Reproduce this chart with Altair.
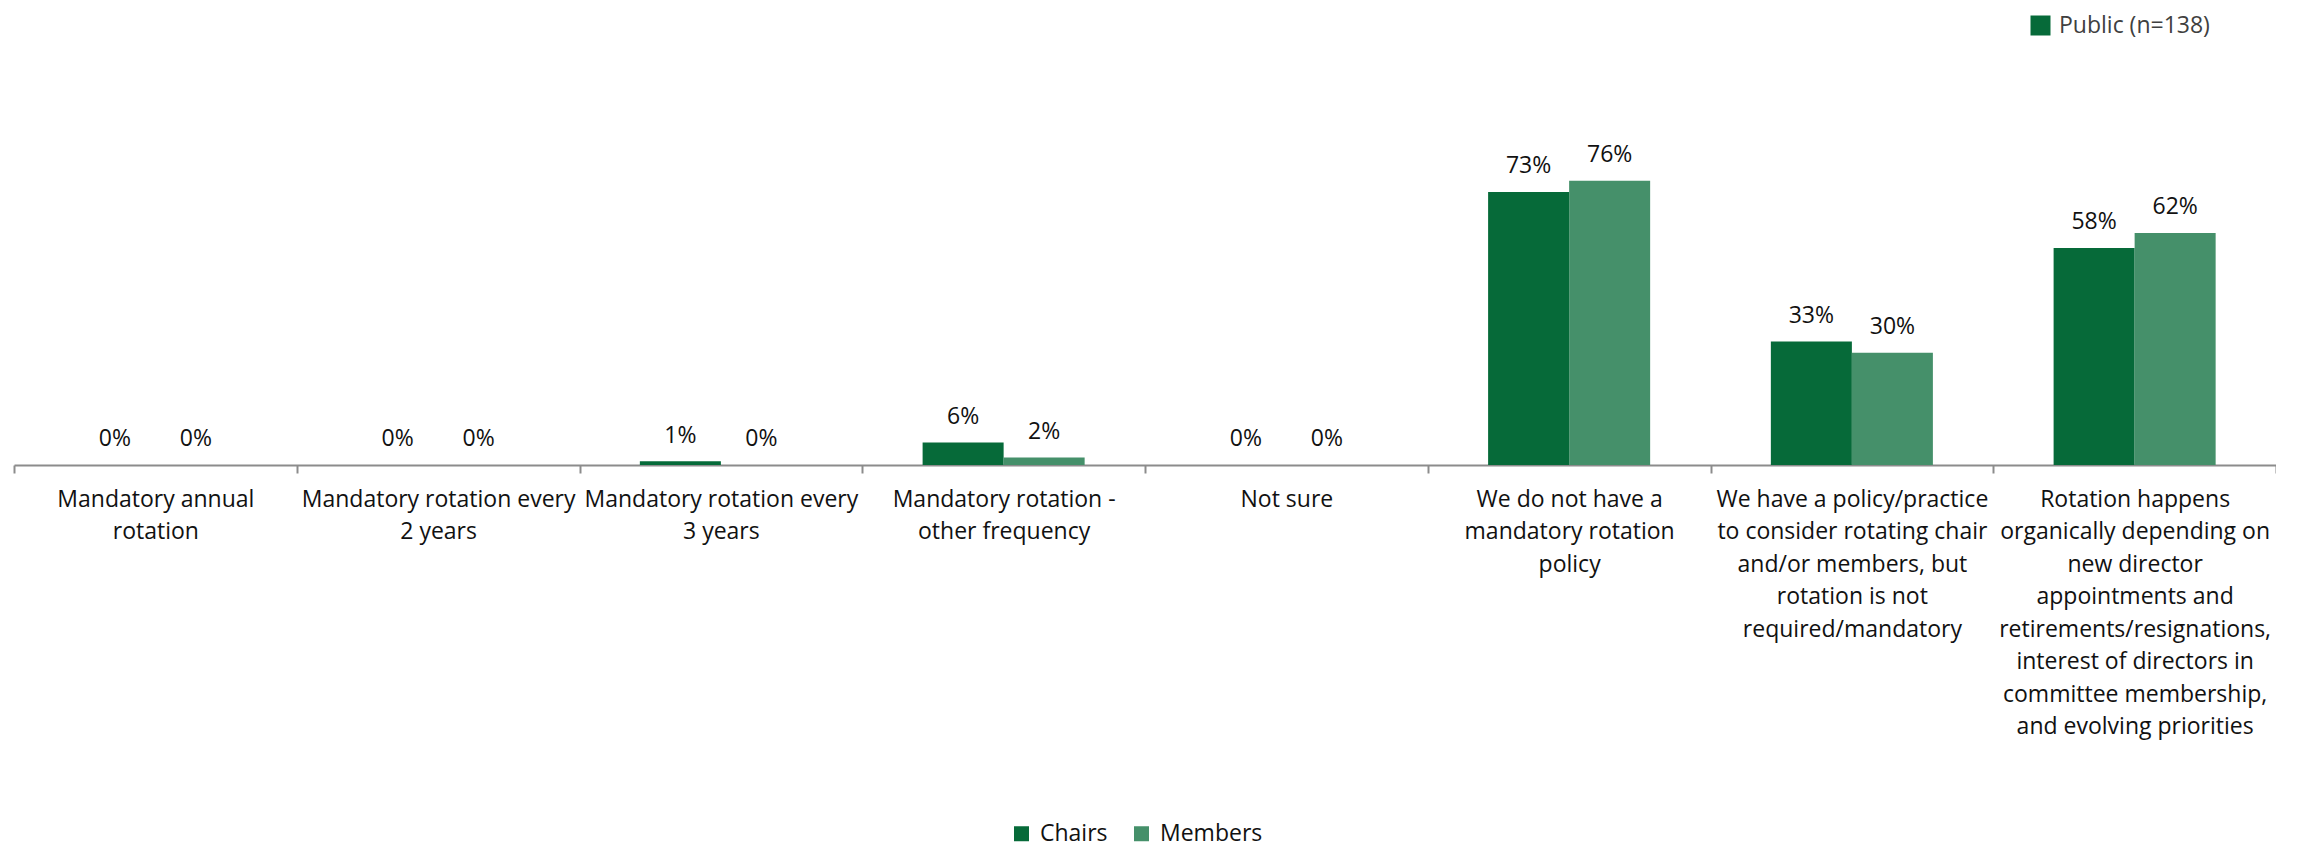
import altair as alt
import pandas as pd

# ---- data ----
categories = [
    "Mandatory annual rotation",
    "Mandatory rotation every 2 years",
    "Mandatory rotation every 3 years",
    "Mandatory rotation - other frequency",
    "Not sure",
    "We do not have a mandatory rotation policy",
    "We have a policy/practice to consider rotating chair and/or members, but rotation is not required/mandatory",
    "Rotation happens organically depending on new director appointments and retirements/resignations, interest of directors in committee membership, and evolving priorities",
]
label_lines = [
    ["Mandatory annual", "rotation"],
    ["Mandatory rotation every", "2 years"],
    ["Mandatory rotation every", "3 years"],
    ["Mandatory rotation -", "other frequency"],
    ["Not sure"],
    ["We do not have a", "mandatory rotation", "policy"],
    ["We have a policy/practice", "to consider rotating chair", "and/or members, but",
     "rotation is not", "required/mandatory"],
    ["Rotation happens", "organically depending on", "new director", "appointments and",
     "retirements/resignations,", "interest of directors in", "committee membership,",
     "and evolving priorities"],
]
chairs = [0, 0, 1, 6, 0, 73, 33, 58]
members = [0, 0, 0, 2, 0, 76, 30, 62]
series_names = ["Chairs", "Members"]
series_colors = ["#066A39", "#45906A"]
public_label = ["Public (n=138)"]
public_color = ["#066A39"]

FONT = "Open Sans"
FS = 23
TEXT_COLOR = "#111111"

labels = ["\n".join(l) for l in label_lines]
rows = []
for cat, lab, c, m in zip(categories, labels, chairs, members):
    rows.append({"category": cat, "label": lab, "series": series_names[0], "value": c})
    rows.append({"category": cat, "label": lab, "series": series_names[1], "value": m})
df = pd.DataFrame(rows)
df["text"] = df["value"].astype(str) + "%"

x_enc = alt.X(
    "label:N",
    sort=labels,
    scale=alt.Scale(paddingInner=0, paddingOuter=0),
    axis=alt.Axis(
        title=None,
        labelAngle=0,
        labelExpr="datum.value ? split(datum.value, '\\n') : ''",
        labelLimit=400,
        labelFont=FONT,
        labelFontSize=FS,
        labelColor=TEXT_COLOR,
        labelLineHeight=32.5,
        labelPadding=15,
        labelBaseline="top",
        tickBand="extent",
        tickSize=8,
        tickWidth=2,
        tickColor="#8c8c8c",
        domainColor="#8c8c8c",
        domainWidth=2,
        grid=False,
        labelOverlap=False,
    ),
)
xoff_enc = alt.XOffset(
    "series:N",
    sort=series_names,
    scale=alt.Scale(paddingInner=0, paddingOuter=0.745),
)
y_enc = alt.Y("value:Q", scale=alt.Scale(domain=[0, 100], nice=False), axis=None)

base = alt.Chart(df)

bars = base.mark_bar(strokeWidth=0).encode(
    x=x_enc,
    xOffset=xoff_enc,
    y=y_enc,
    color=alt.Color(
        "series:N",
        sort=series_names,
        scale=alt.Scale(domain=series_names, range=series_colors),
        legend=alt.Legend(
            orient="none",
            legendX=996,
            legendY=731,
            direction="horizontal",
            title=None,
            symbolType="square",
            symbolSize=225,
            symbolStrokeWidth=0,
            labelFont=FONT,
            labelFontSize=FS,
            labelColor=TEXT_COLOR,
            labelOffset=7,
            columnPadding=22,
        ),
    ),
)

texts = base.mark_text(
    baseline="alphabetic", align="center", dy=-18.7, font=FONT, fontSize=FS, color=TEXT_COLOR
).encode(
    x=x_enc,
    xOffset=xoff_enc,
    y=y_enc,
    text="text:N",
)

pub_df = pd.DataFrame({"group": public_label})
public_legend = alt.Chart(pub_df).mark_square(opacity=0, filled=True, size=0).encode(
    color=alt.Color(
        "group:N",
        scale=alt.Scale(domain=public_label, range=public_color),
        legend=alt.Legend(
            orient="none",
            legendX=2015,
            legendY=-77,
            title=None,
            symbolType="square",
            symbolSize=400,
            symbolOpacity=1,
            symbolStrokeWidth=0,
            labelFont=FONT,
            labelFontSize=FS,
            labelColor="#404040",
            labelOffset=7,
        ),
    )
)

chart = (
    alt.layer(bars, texts, public_legend)
    .resolve_scale(color="independent")
    .properties(
        width=2262,
        height=374,
        autosize=alt.AutoSizeParams(type="none"),
        padding={"left": 6, "top": 83, "right": 0, "bottom": 383},
    )
    .configure(font=FONT, view=alt.ViewConfig(strokeWidth=0, stroke="transparent"))
)

chart.save("out.html", embed_options={"renderer": "svg", "actions": False})
